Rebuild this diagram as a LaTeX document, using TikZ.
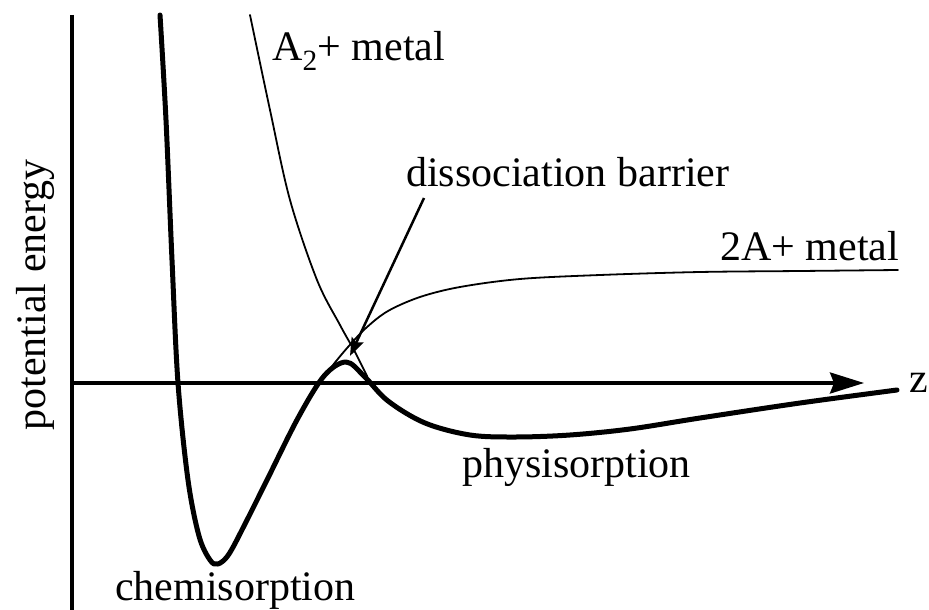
\documentclass[tikz,border=0pt]{standalone}
\usepackage{fontspec}
\setmainfont{Liberation Serif}
\usetikzlibrary{arrows.meta}
\tikzset{
  axisline/.style={line width=3.5pt},
  thickcurve/.style={line width=5pt, line join=round, line cap=round},
  thincurve/.style={line width=1.8pt, line cap=round},
  lbl/.style={inner sep=0pt, font=\fontsize{42}{50}\selectfont},
  pointer/.style={line width=2.5pt, -{Stealth[length=18pt,width=13pt,inset=3pt]}}
}
\begin{document}
\begin{tikzpicture}[x=1pt,y=-1pt]
\useasboundingbox (0,0) rectangle (929,610);
% axes
\coordinate (ytop) at (72,15);
\coordinate (ybot) at (72,610);
\coordinate (xorig) at (72,383);
\coordinate (xend) at (864,383);
\draw[axisline] (ytop) -- (ybot);
\draw[axisline, -{Stealth[length=34pt,width=21pt,inset=4pt]}] (xorig) -- (xend);
% thick curve: chemisorption / physisorption
\draw[thickcurve] plot[smooth, tension=0.55] coordinates {
 (160,15) (166,120) (172,260) (178,383) (188,480) (199,536) (210,560) (218,564)
 (229,554) (246,522) (267,480) (298,418) (324,376) (346,362) (364,376)
 (388,401) (425,423) (470,435) (515,437) (570,435) (630,429) (700,418)
 (800,403) (897,390)};
% A2 + metal curve
\draw[thincurve] plot[smooth, tension=0.55] coordinates {
 (250,15) (270,110) (290,200) (317,280) (340,325) (355,352) (367,376)};
% 2A + metal curve
\draw[thincurve] plot[smooth, tension=0.55] coordinates {
 (318,385) (333,365) (348,347) (366,328) (388,311) (420,297) (460,287) (520,279)
 (600,275) (700,272) (800,271) (898,270)};
% dissociation barrier pointer
\coordinate (dtail) at (424,198);
\coordinate (dtip) at (350,356);
\draw[pointer] (dtail) -- (dtip);
% labels
\node[lbl, anchor=base west] (a2) at (272,60) {A\textsubscript{2}+ metal};
\node[lbl, anchor=base west] (dis) at (406,186) {dissociation barrier};
\node[lbl, anchor=base west] (twoa) at (720,260) {2A+ metal};
\node[lbl, anchor=base west] (phys) at (462,477) {physisorption};
\node[lbl, anchor=base west] (chem) at (115,600) {chemisorption};
\node[lbl, anchor=base west] (z) at (909,392) {z};
\node[lbl, anchor=base, rotate=90] (pe) at (45,295) {potential energy};
\end{tikzpicture}
\end{document}
